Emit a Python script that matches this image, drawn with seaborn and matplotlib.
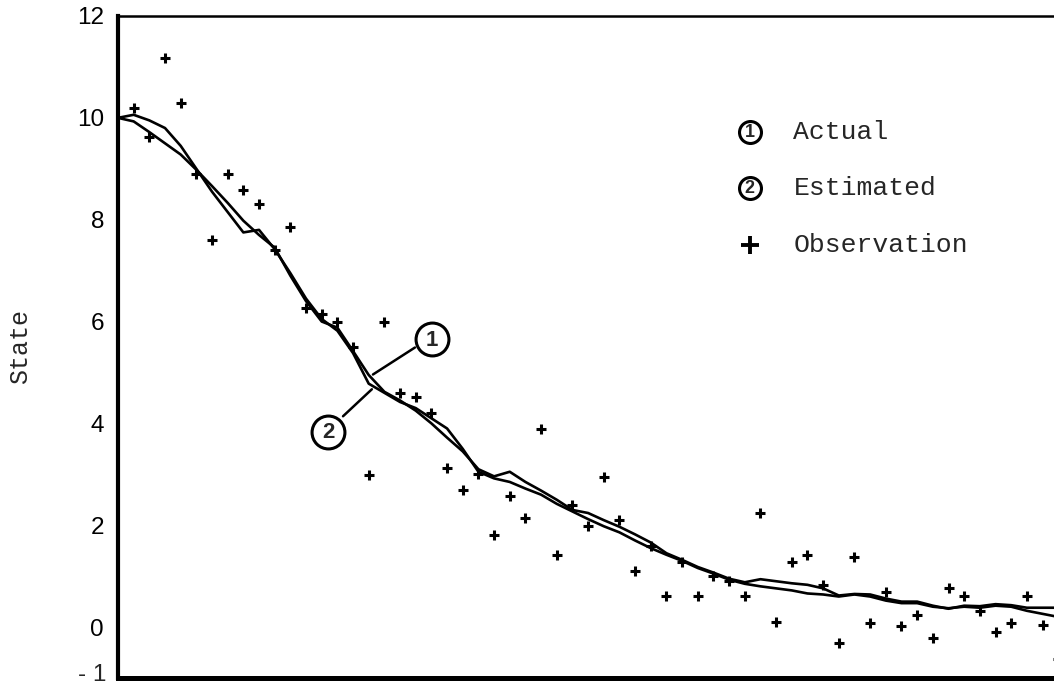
import matplotlib
matplotlib.use("Agg")
import matplotlib.pyplot as plt
import numpy as np
import pandas as pd
import seaborn as sns

# time steps of the state trajectories
steps = list(range(0, 61))

# true state trajectory
actual = [
    10.00, 9.93, 9.72, 9.50, 9.28, 8.98, 8.66, 8.33, 7.98, 7.70,
    7.45, 6.90, 6.40, 6.00, 5.88, 5.42, 4.95, 4.62, 4.45, 4.25,
    4.00, 3.72, 3.45, 3.10, 2.96, 3.05, 2.85, 2.68, 2.50, 2.30,
    2.24, 2.10, 1.97, 1.82, 1.66, 1.45, 1.32, 1.18, 1.07, 0.95,
    0.88, 0.94, 0.90, 0.86, 0.83, 0.76, 0.62, 0.65, 0.64, 0.56,
    0.50, 0.50, 0.42, 0.36, 0.42, 0.41, 0.45, 0.43, 0.38, 0.38,
    0.38,
]

# filter estimate of the state
estimated = [
    10.00, 10.06, 9.95, 9.80, 9.45, 9.00, 8.55, 8.15, 7.75, 7.80,
    7.42, 6.95, 6.45, 6.05, 5.82, 5.38, 4.78, 4.60, 4.42, 4.30,
    4.10, 3.90, 3.50, 3.05, 2.92, 2.85, 2.72, 2.60, 2.42, 2.27,
    2.12, 1.98, 1.86, 1.70, 1.55, 1.42, 1.30, 1.16, 1.05, 0.93,
    0.85, 0.80, 0.76, 0.72, 0.66, 0.64, 0.60, 0.64, 0.60, 0.52,
    0.47, 0.47, 0.40, 0.37, 0.40, 0.38, 0.42, 0.40, 0.32, 0.26,
    0.20,
]

# noisy measurements
obs_steps = list(range(1, 61))
observations = [
    10.20, 9.63, 11.18, 10.30, 8.90, 7.60, 8.90, 8.59, 8.31, 7.41,
    7.86, 6.27, 6.15, 6.00, 5.50, 2.98, 6.00, 4.59, 4.51, 4.20,
    3.12, 2.70, 3.00, 1.80, 2.57, 2.14, 3.88, 1.41, 2.39, 1.98,
    2.94, 2.10, 1.10, 1.60, 0.61, 1.27, 0.61, 1.00, 0.90, 0.61,
    2.25, 0.10, 1.27, 1.41, 0.82, -0.31, 1.37, 0.08, 0.69, 0.02,
    0.24, -0.22, 0.76, 0.61, 0.31, -0.10, 0.08, 0.61, 0.04, -0.63,
]

y_ticks = [-1, 0, 2, 4, 6, 8, 10, 12]
y_tick_labels = ["- 1", "0", "2", "4", "6", "8", "10", "12"]
y_minor = [1, 3, 5, 7, 9, 11]
x_major = list(range(0, 65, 5))
x_minor = list(range(0, 63))
legend_labels = ["Actual", "Estimated", "Observation"]
y_label = "State"

sns.set_style("white")
plt.rcParams["font.family"] = ["Liberation Sans", "DejaVu Sans"]
mono = "Liberation Mono"

W, H = 1054, 689
px_per_step = 15.67
fig = plt.figure(figsize=(W / 100, H / 100), dpi=100)
ax = fig.add_axes([118 / W, 11 / H, 62 * px_per_step / W, 662 / H])

traj = pd.DataFrame({
    "step": steps * 2,
    "value": actual + estimated,
    "series": ["Actual"] * len(steps) + ["Estimated"] * len(steps),
})
sns.lineplot(data=traj, x="step", y="value", hue="series",
             palette=["black", "black"], estimator=None, legend=False,
             linewidth=1.9, ax=ax, zorder=2)

sns.scatterplot(x=obs_steps, y=observations, marker="+", s=60,
                linewidth=2.2, color="black", ax=ax, zorder=3)

ax.set_xlim(0, 62)
ax.set_ylim(-1, 12)
ax.set_xlabel("")
ax.set_ylabel("")

# axes frame
for side, lw in (("left", 3.0), ("bottom", 3.6), ("top", 1.8)):
    ax.spines[side].set_linewidth(lw)
    ax.spines[side].set_color("black")
ax.spines["right"].set_visible(False)

# y tick labels; the lowest one sits on the frame corner, so it is
# placed by hand a little higher to stay inside the canvas
ax.set_yticks(y_ticks)
ax.set_yticklabels([""] + y_tick_labels[1:])
ax.annotate(y_tick_labels[0], xy=(0, y_ticks[0]), xycoords="data",
            xytext=(-8.5, 2.5), textcoords="offset points",
            ha="right", va="center", fontsize=17.5)
ax.set_yticks(y_minor, minor=True)
ax.set_xticks(x_major)
ax.set_xticklabels([])
ax.set_xticks(x_minor, minor=True)
ax.tick_params(axis="y", which="both", direction="inout", length=8,
               width=2.2, labelsize=17.5, pad=6, colors="black")
ax.tick_params(axis="x", which="major", direction="inout", length=8,
               width=2.2, colors="black")
ax.tick_params(axis="x", which="minor", direction="inout", length=3,
               width=0.8, colors="black")
ax.tick_params(top=False, right=False, which="both")

fig.text(20 / W, 1 - 347 / H, y_label, rotation=90, family=mono,
         fontsize=18, ha="center", va="center")

# legend drawn inside the plot
leg_x, leg_tx = 40.3, 43.1
leg_y = [9.73, 8.63, 7.50]
for num, yy in zip(["1", "2"], leg_y[:2]):
    ax.scatter([leg_x], [yy], s=250, facecolor="white", edgecolor="black",
               linewidth=2.2, zorder=4)
    ax.text(leg_x, yy - 0.02, num, ha="center", va="center", fontsize=13,
            fontweight="bold", zorder=5)
ax.scatter([leg_x], [leg_y[2]], marker="+", s=170, linewidth=2.8,
           color="black", zorder=4)
for lab, yy in zip(legend_labels, leg_y):
    ax.text(leg_tx, yy, lab, ha="left", va="center", family=mono,
            fontsize=19, zorder=5)

# curve callouts
callouts = [("1", (20.04, 5.65), (18.95, 5.49), (16.27, 4.96)),
            ("2", (13.40, 3.84), (14.36, 4.14), (16.20, 4.67))]
for num, centre, start, end in callouts:
    ax.plot([start[0], end[0]], [start[1], end[1]], color="black",
            linewidth=1.8, zorder=3)
    ax.scatter([centre[0]], [centre[1]], s=560, facecolor="white",
               edgecolor="black", linewidth=2.2, zorder=4)
    ax.text(centre[0], centre[1] - 0.02, num, ha="center", va="center",
            fontsize=16, fontweight="bold", zorder=5)

fig.savefig("out.png", dpi=100, facecolor="white")
